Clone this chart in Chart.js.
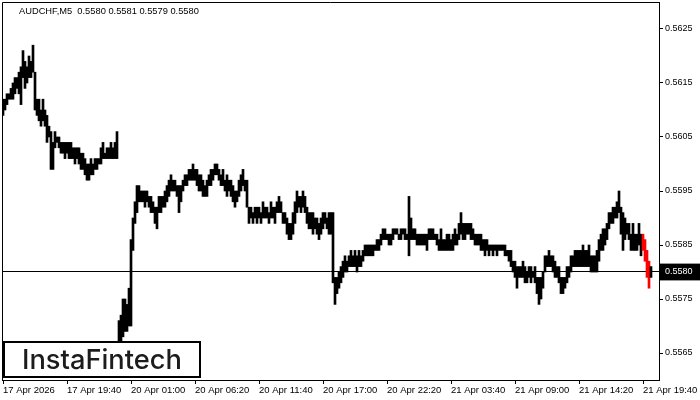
<!DOCTYPE html>
<html><head><meta charset="utf-8">
<script src="https://cdn.jsdelivr.net/npm/chart.js@4/dist/chart.umd.min.js"></script>
<style>html,body{margin:0;padding:0;background:#fff;}canvas{display:block;}</style>
</head><body>
<canvas id="c" width="700" height="400"></canvas>
<script>
const symbolTitle = 'AUDCHF,M5  0.5580 0.5581 0.5579 0.5580';
const logoText = 'InstaFintech';
const tickLabels = ['17 Apr 2026','17 Apr 19:40','20 Apr 01:00','20 Apr 06:20','20 Apr 11:40','20 Apr 17:00','20 Apr 22:20','21 Apr 03:40','21 Apr 09:00','21 Apr 14:20','21 Apr 19:40'];
const barsPerLabel = 32;
const priceTicks = [0.5565,0.5575,0.5585,0.5595,0.5605,0.5615,0.5625];
const currentPrice = 0.5580;
const highlighted = [320,321,322,323];

const highs = [
0.5612,0.5612,0.5613,0.5613,0.5614,0.5615,0.5616,0.5616,0.5617,0.5618,
0.5621,0.5619,0.5618,0.5620,0.5619,0.5622,0.5617,0.5612,0.5612,0.5610,
0.5612,0.5610,0.5609,0.5607,0.5606,0.5604,0.5606,0.5605,0.5605,0.5604,
0.5604,0.5604,0.5604,0.5604,0.5604,0.5603,0.5603,0.5603,0.5603,0.5602,
0.5602,0.5601,0.5600,0.5600,0.5601,0.5600,0.5601,0.5601,0.5601,0.5603,
0.5604,0.5602,0.5603,0.5603,0.5604,0.5603,0.5604,0.5606,0.5571,0.5572,
0.5575,0.5575,0.5574,0.5577,0.5586,0.5590,0.5593,0.5596,0.5596,0.5595,
0.5595,0.5595,0.5595,0.5594,0.5594,0.5593,0.5592,0.5592,0.5594,0.5594,
0.5594,0.5595,0.5596,0.5597,0.5598,0.5597,0.5597,0.5596,0.5596,0.5596,
0.5597,0.5598,0.5598,0.5599,0.5599,0.5600,0.5599,0.5599,0.5598,0.5598,
0.5597,0.5596,0.5597,0.5598,0.5599,0.5599,0.5600,0.5600,0.5599,0.5598,
0.5599,0.5597,0.5598,0.5597,0.5597,0.5596,0.5595,0.5595,0.5597,0.5598,
0.5599,0.5597,0.5597,0.5592,0.5592,0.5591,0.5592,0.5592,0.5592,0.5591,
0.5593,0.5592,0.5592,0.5591,0.5593,0.5592,0.5592,0.5593,0.5594,0.5593,
0.5591,0.5591,0.5590,0.5589,0.5589,0.5591,0.5593,0.5595,0.5594,0.5594,
0.5595,0.5594,0.5592,0.5591,0.5591,0.5591,0.5590,0.5590,0.5589,0.5590,
0.5591,0.5591,0.5590,0.5591,0.5591,0.5591,0.5579,0.5579,0.5580,0.5581,
0.5582,0.5583,0.5582,0.5583,0.5584,0.5583,0.5584,0.5583,0.5584,0.5583,
0.5584,0.5585,0.5585,0.5585,0.5585,0.5585,0.5585,0.5586,0.5586,0.5587,
0.5588,0.5588,0.5587,0.5587,0.5587,0.5588,0.5588,0.5588,0.5587,0.5588,
0.5588,0.5588,0.5587,0.5594,0.5590,0.5588,0.5588,0.5587,0.5587,0.5587,
0.5587,0.5587,0.5587,0.5588,0.5588,0.5588,0.5587,0.5587,0.5586,0.5588,
0.5586,0.5586,0.5587,0.5587,0.5586,0.5587,0.5588,0.5587,0.5589,0.5591,
0.5589,0.5589,0.5589,0.5589,0.5589,0.5588,0.5587,0.5587,0.5587,0.5587,
0.5586,0.5586,0.5586,0.5585,0.5585,0.5585,0.5585,0.5585,0.5585,0.5585,
0.5585,0.5585,0.5584,0.5584,0.5584,0.5582,0.5582,0.5581,0.5581,0.5581,
0.5582,0.5581,0.5580,0.5581,0.5581,0.5580,0.5581,0.5579,0.5579,0.5579,
0.5580,0.5583,0.5583,0.5584,0.5583,0.5583,0.5582,0.5581,0.5581,0.5579,
0.5579,0.5579,0.5581,0.5581,0.5583,0.5583,0.5584,0.5584,0.5584,0.5584,
0.5585,0.5584,0.5584,0.5585,0.5583,0.5583,0.5583,0.5584,0.5586,0.5587,
0.5588,0.5588,0.5589,0.5591,0.5591,0.5592,0.5592,0.5593,0.5595,0.5592,
0.5591,0.5590,0.5589,0.5589,0.5587,0.5589,0.5587,0.5587,0.5589,0.5587,
0.5587,0.5586,0.5584,0.5582,0.5581];

const lows = [
0.5609,0.5610,0.5611,0.5612,0.5612,0.5612,0.5613,0.5614,0.5613,0.5611,
0.5616,0.5614,0.5615,0.5616,0.5616,0.5617,0.5610,0.5609,0.5608,0.5607,
0.5608,0.5607,0.5604,0.5605,0.5599,0.5599,0.5603,0.5604,0.5603,0.5602,
0.5602,0.5601,0.5602,0.5601,0.5601,0.5601,0.5600,0.5601,0.5600,0.5599,
0.5599,0.5598,0.5597,0.5597,0.5598,0.5598,0.5599,0.5599,0.5600,0.5600,
0.5601,0.5601,0.5601,0.5601,0.5601,0.5601,0.5601,0.5601,0.5566,0.5566,
0.5568,0.5569,0.5569,0.5570,0.5570,0.5584,0.5589,0.5591,0.5593,0.5593,
0.5593,0.5592,0.5593,0.5592,0.5591,0.5591,0.5589,0.5588,0.5591,0.5591,
0.5592,0.5592,0.5593,0.5594,0.5595,0.5595,0.5595,0.5594,0.5591,0.5593,
0.5595,0.5596,0.5596,0.5597,0.5597,0.5597,0.5597,0.5596,0.5595,0.5595,
0.5594,0.5594,0.5594,0.5596,0.5596,0.5597,0.5598,0.5598,0.5597,0.5596,
0.5596,0.5595,0.5594,0.5595,0.5594,0.5593,0.5592,0.5593,0.5594,0.5595,
0.5596,0.5595,0.5592,0.5589,0.5590,0.5589,0.5590,0.5589,0.5590,0.5589,
0.5590,0.5590,0.5590,0.5589,0.5590,0.5590,0.5589,0.5591,0.5591,0.5591,
0.5589,0.5589,0.5587,0.5586,0.5586,0.5587,0.5589,0.5591,0.5592,0.5591,
0.5592,0.5591,0.5589,0.5588,0.5588,0.5587,0.5588,0.5587,0.5586,0.5587,
0.5588,0.5589,0.5588,0.5587,0.5587,0.5578,0.5574,0.5576,0.5577,0.5578,
0.5579,0.5580,0.5580,0.5581,0.5581,0.5581,0.5581,0.5580,0.5581,0.5581,
0.5582,0.5583,0.5583,0.5583,0.5583,0.5583,0.5584,0.5584,0.5584,0.5585,
0.5586,0.5586,0.5586,0.5585,0.5585,0.5586,0.5587,0.5587,0.5586,0.5586,
0.5587,0.5586,0.5586,0.5583,0.5586,0.5586,0.5586,0.5585,0.5585,0.5585,
0.5585,0.5585,0.5584,0.5586,0.5586,0.5586,0.5586,0.5585,0.5584,0.5584,
0.5584,0.5584,0.5584,0.5584,0.5584,0.5584,0.5585,0.5585,0.5586,0.5587,
0.5586,0.5586,0.5587,0.5587,0.5586,0.5586,0.5585,0.5585,0.5585,0.5584,
0.5584,0.5583,0.5584,0.5583,0.5584,0.5583,0.5584,0.5583,0.5584,0.5584,
0.5584,0.5583,0.5583,0.5582,0.5581,0.5580,0.5579,0.5577,0.5579,0.5579,
0.5579,0.5578,0.5578,0.5579,0.5578,0.5579,0.5578,0.5576,0.5574,0.5575,
0.5577,0.5580,0.5581,0.5581,0.5581,0.5580,0.5579,0.5579,0.5578,0.5576,
0.5576,0.5577,0.5578,0.5579,0.5580,0.5581,0.5581,0.5581,0.5581,0.5581,
0.5581,0.5581,0.5581,0.5581,0.5580,0.5580,0.5580,0.5580,0.5582,0.5584,
0.5584,0.5585,0.5586,0.5588,0.5589,0.5589,0.5590,0.5590,0.5591,0.5587,
0.5584,0.5586,0.5587,0.5586,0.5584,0.5584,0.5584,0.5584,0.5585,0.5583,
0.5584,0.5582,0.5579,0.5577,0.5579];

const F = '"Liberation Sans", Arial, sans-serif';

const frame = {
  id: 'frame',
  afterDatasetsDraw(c) {
    const ctx = c.ctx, a = c.chartArea;
    ctx.save();
    ctx.strokeStyle = '#000'; ctx.lineWidth = 1;
    ctx.beginPath();
    ctx.moveTo(a.left + 0.5, a.bottom);
    ctx.lineTo(a.left + 0.5, a.top + 0.5);
    ctx.lineTo(a.right, a.top + 0.5);
    ctx.stroke();
    ctx.fillStyle = '#000';
    ctx.font = '9.3px ' + F;
    ctx.textBaseline = 'middle';
    ctx.textAlign = 'left';
    ctx.fillText(symbolTitle, 19, 11);
    ctx.fillStyle = '#fff';
    ctx.fillRect(3, 341, 198, 37);
    ctx.lineWidth = 2;
    ctx.strokeRect(4, 342, 196, 35);
    ctx.fillStyle = '#1c1c1c';
    ctx.font = '500 27px Inter, "Open Sans", sans-serif';
    const w = ctx.measureText(logoText).width;
    const size = 27 * 160 / w;
    ctx.font = '500 ' + size.toFixed(2) + 'px Inter, "Open Sans", sans-serif';
    ctx.textBaseline = 'alphabetic';
    ctx.fillText(logoText, 22, 369);
    ctx.restore();
  }
};

const data = highs.map((h, i) => ({x: i, y: [lows[i], h]}));

new Chart(document.getElementById('c'), {
  type: 'bar',
  data: {datasets: [{
    data,
    backgroundColor: highs.map((_, i) => highlighted.includes(i) ? '#ff0000' : '#000000'),
    borderWidth: 0,
    barThickness: 2
  }]},
  options: {
    responsive: false, animation: false, devicePixelRatio: 1,
    layout: {padding: {left: 2, top: 2, right: 0, bottom: 0}},
    plugins: {legend: {display: false}, tooltip: {enabled: false}},
    scales: {
      x: {
        type: 'linear', min: -0.5, max: 328, offset: false,
        grid: {offset: false, drawOnChartArea: false, color: '#000', tickColor: '#000', tickLength: 4},
        border: {display: true, color: '#000', width: 1},
        afterBuildTicks: s => { s.ticks = tickLabels.map((_, k) => ({value: k * barsPerLabel})); },
        afterFit: s => { s.height = 20; s.paddingLeft = 0; s.paddingRight = 0; },
        ticks: {
          align: 'start', maxRotation: 0, minRotation: 0, autoSkip: false, padding: 1,
          color: '#000', font: {family: F, size: 9.5},
          callback: v => tickLabels[Math.round(v / barsPerLabel)]
        }
      },
      y: {
        position: 'right', min: 0.5560, max: 0.5630,
        grid: {
          color: c => (c.tick && c.tick.value === currentPrice) ? '#000' : 'rgba(0,0,0,0)',
          tickColor: '#000', tickLength: 4, lineWidth: 1
        },
        border: {display: true, color: '#000', width: 1},
        afterBuildTicks: s => { s.ticks = priceTicks.concat([currentPrice]).sort((a, b) => a - b).map(v => ({value: v})); },
        afterFit: s => { s.width = 41; s.paddingTop = 0; s.paddingBottom = 0; },
        ticks: {
          autoSkip: false, padding: 2,
          font: {family: F, size: 9},
          color: c => (c.tick && c.tick.value === currentPrice) ? '#fff' : '#000',
          showLabelBackdrop: c => !!(c.tick && c.tick.value === currentPrice),
          backdropColor: '#000',
          backdropPadding: {top: 3, bottom: 3, left: 5, right: 8},
          callback: v => v.toFixed(4)
        }
      }
    }
  },
  plugins: [frame]
});
</script>
</body></html>
